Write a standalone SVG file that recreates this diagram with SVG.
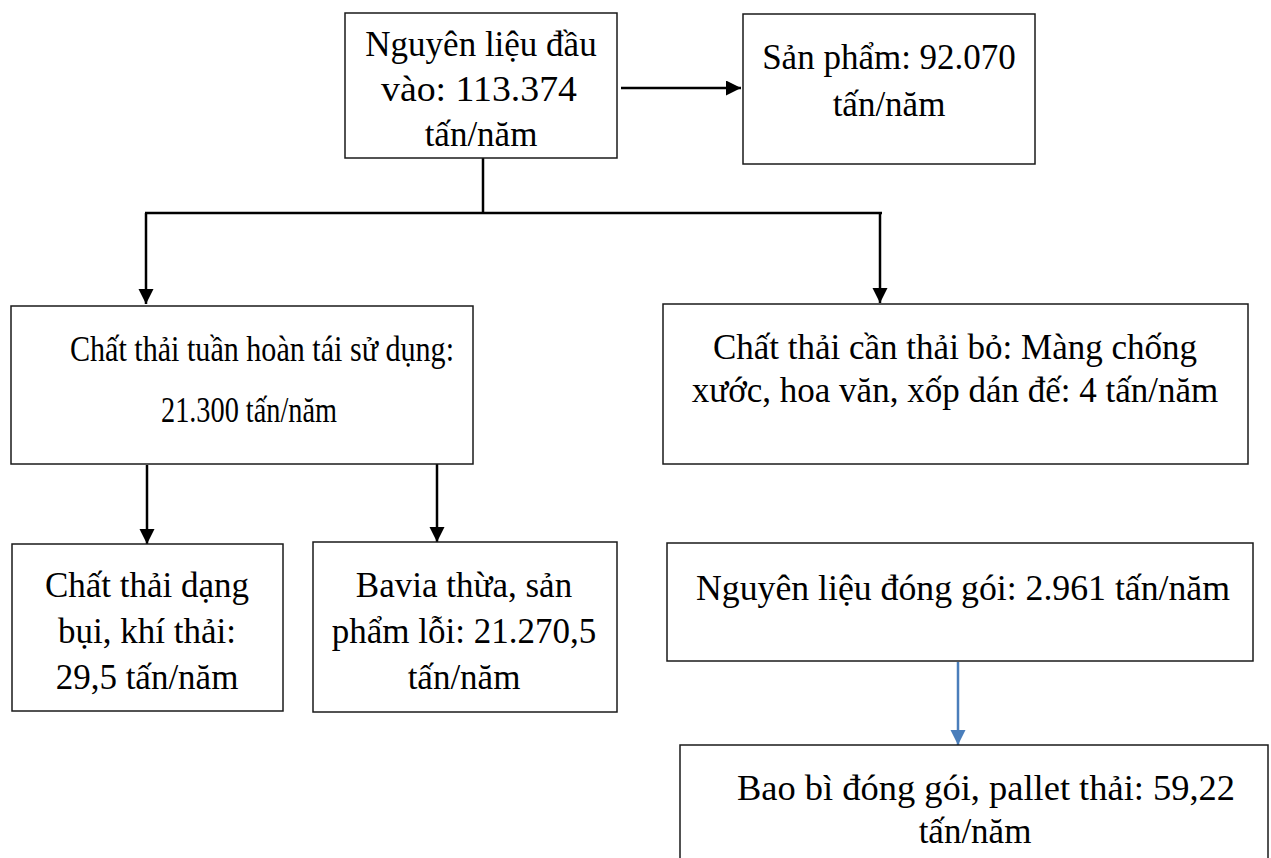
<svg xmlns="http://www.w3.org/2000/svg" width="1271" height="858" viewBox="0 0 1271 858">
  <defs>
    <style>
      .box { fill: #ffffff; stroke: #1a1a1a; stroke-width: 1.5; }
      .lbl { font-family: "Liberation Serif", "Times New Roman", serif; font-size: 35px; fill: #000000; text-anchor: middle; }
      .link { fill: none; stroke: #000000; stroke-width: 2.5; }
      .link-blue { fill: none; stroke: #4a7ebb; stroke-width: 2.5; }
    </style>
    <marker id="arrow" markerUnits="userSpaceOnUse" markerWidth="16" markerHeight="16" refX="15" refY="7.5" orient="auto">
      <path d="M0,0 L15,7.5 L0,15 Z" fill="#000000"/>
    </marker>
    <marker id="arrow-blue" markerUnits="userSpaceOnUse" markerWidth="16" markerHeight="16" refX="15" refY="7.5" orient="auto">
      <path d="M0,0 L15,7.5 L0,15 Z" fill="#4a7ebb"/>
    </marker>
  </defs>

  <rect width="1271" height="858" fill="#ffffff"/>

  <!-- connectors -->
  <g id="connectors">
    <line class="link" x1="621" y1="88" x2="741" y2="88" marker-end="url(#arrow)"/>
    <line class="link" x1="483" y1="158" x2="483" y2="213"/>
    <line class="link" x1="145" y1="213" x2="882" y2="213"/>
    <line class="link" x1="146" y1="213" x2="146" y2="304" marker-end="url(#arrow)"/>
    <line class="link" x1="880" y1="213" x2="880" y2="303" marker-end="url(#arrow)"/>
    <line class="link" x1="147" y1="465" x2="147" y2="544" marker-end="url(#arrow)"/>
    <line class="link" x1="437" y1="464" x2="437" y2="542" marker-end="url(#arrow)"/>
    <line class="link-blue" x1="958" y1="662" x2="958" y2="745" marker-end="url(#arrow-blue)"/>
  </g>

  <!-- input materials -->
  <g id="node-input">
    <rect class="box" x="345" y="13" width="272" height="145"/>
    <text class="lbl" x="481" y="56">Nguyên liệu đầu</text>
    <text class="lbl" x="479" y="101" textLength="196" lengthAdjust="spacingAndGlyphs">vào: 113.374</text>
    <text class="lbl" x="481" y="146">tấn/năm</text>
  </g>

  <!-- product -->
  <g id="node-product">
    <rect class="box" x="743" y="14" width="292" height="150"/>
    <text class="lbl" x="889" y="69">Sản phẩm: 92.070</text>
    <text class="lbl" x="889" y="116">tấn/năm</text>
  </g>

  <!-- recycled waste -->
  <g id="node-recycled">
    <rect class="box" x="11" y="306" width="462" height="158"/>
    <text class="lbl" x="262" y="361" textLength="384" lengthAdjust="spacingAndGlyphs">Chất thải tuần hoàn tái sử dụng:</text>
    <text class="lbl" x="249" y="422" textLength="176" lengthAdjust="spacingAndGlyphs">21.300 tấn/năm</text>
  </g>

  <!-- waste to dispose -->
  <g id="node-dispose">
    <rect class="box" x="663" y="304" width="585" height="160"/>
    <text class="lbl" x="955" y="359">Chất thải cần thải bỏ: Màng chống</text>
    <text class="lbl" x="955" y="402">xước, hoa văn, xốp dán đế: 4 tấn/năm</text>
  </g>

  <!-- dust and exhaust -->
  <g id="node-dust">
    <rect class="box" x="12" y="544" width="271" height="167"/>
    <text class="lbl" x="147" y="597">Chất thải dạng</text>
    <text class="lbl" x="147" y="643">bụi, khí thải:</text>
    <text class="lbl" x="147" y="689">29,5 tấn/năm</text>
  </g>

  <!-- burrs and defects -->
  <g id="node-burrs">
    <rect class="box" x="313" y="542" width="304" height="170"/>
    <text class="lbl" x="464" y="597">Bavia thừa, sản</text>
    <text class="lbl" x="464" y="643">phẩm lỗi: 21.270,5</text>
    <text class="lbl" x="464" y="689">tấn/năm</text>
  </g>

  <!-- packaging materials -->
  <g id="node-packaging">
    <rect class="box" x="667" y="543" width="586" height="118"/>
    <text class="lbl" x="963" y="600" textLength="534" lengthAdjust="spacingAndGlyphs">Nguyên liệu đóng gói: 2.961 tấn/năm</text>
  </g>

  <!-- packaging waste -->
  <g id="node-packaging-waste">
    <rect class="box" x="680" y="745" width="588" height="140"/>
    <text class="lbl" x="986" y="800" textLength="498" lengthAdjust="spacingAndGlyphs">Bao bì đóng gói, pallet thải: 59,22</text>
    <text class="lbl" x="975" y="843">tấn/năm</text>
  </g>
</svg>
